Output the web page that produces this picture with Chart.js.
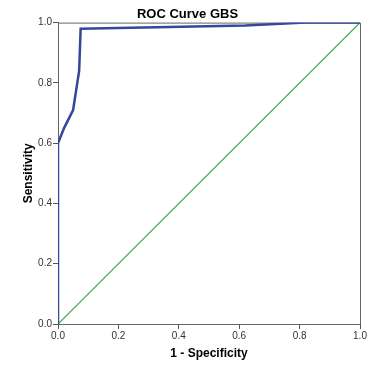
<!DOCTYPE html>
<html>
<head>
<meta charset="utf-8">
<script src="https://cdn.jsdelivr.net/npm/chart.js@4"></script>
<style>
  html, body { margin: 0; padding: 0; background: #fff; }
  #wrap { width: 391px; height: 368px; }
</style>
</head>
<body>
<div id="wrap"><canvas id="rocChart" width="391" height="368"></canvas></div>
<script>
// ROC curve points
const rocX = [0, 0, 0.02, 0.05, 0.07, 0.075, 0.62, 0.82, 1];
const rocY = [0, 0.6, 0.65, 0.71, 0.84, 0.98, 0.99, 1.0, 1.0];
// reference line
const diagX = [0, 1];
const diagY = [0, 1];
const tickValues = [0, 0.2, 0.4, 0.6, 0.8, 1.0];

function toPoints(xs, ys) {
    return xs.map((x, i) => ({ x: x, y: ys[i] }));
}

// box around the plot area (top and right sides)
const frame = {
    id: 'frame',
    beforeDatasetsDraw(chart) {
        const { ctx, chartArea: a } = chart;
        ctx.save();
        ctx.strokeStyle = '#666';
        ctx.lineWidth = 1;
        ctx.beginPath();
        ctx.moveTo(a.left, a.top + 0.5);
        ctx.lineTo(a.right + 0.5, a.top + 0.5);
        ctx.lineTo(a.right + 0.5, a.bottom);
        ctx.stroke();
        ctx.restore();
    }
};

const tickFont = { family: 'Arial, "Liberation Sans", sans-serif', size: 10 };
const titleFont = { family: 'Arial, "Liberation Sans", sans-serif', size: 12, weight: 'bold' };

new Chart(document.getElementById('rocChart'), {
    type: 'line',
    data: {
        datasets: [{
            data: toPoints(rocX, rocY),
            borderColor: '#34479c',
            borderWidth: 2.5,
            pointRadius: 0,
            tension: 0
        }, {
            data: toPoints(diagX, diagY),
            borderColor: '#3aa843',
            borderWidth: 1.2,
            pointRadius: 0
        }]
    },
    options: {
        responsive: false,
        animation: false,
        layout: { padding: { left: 15, right: 31, top: 0, bottom: 0 } },
        plugins: {
            legend: { display: false },
            tooltip: { enabled: false },
            title: {
                display: true,
                text: 'ROC Curve GBS',
                color: '#000',
                font: { family: 'Arial, "Liberation Sans", sans-serif', size: 13, weight: 'bold' },
                padding: { top: 7, bottom: 0 }
            }
        },
        scales: {
            x: {
                type: 'linear',
                min: 0,
                max: 1,
                afterBuildTicks: s => { s.ticks = tickValues.map(v => ({ value: v })); },
                afterFit: s => { s.height = 44; },
                ticks: {
                    color: '#333',
                    font: tickFont,
                    padding: 1,
                    maxRotation: 0,
                    callback: v => v.toFixed(1)
                },
                grid: { drawOnChartArea: false, drawTicks: true, tickLength: 5, color: '#555' },
                border: { color: '#666', width: 1 },
                title: {
                    display: true,
                    text: '1 - Specificity',
                    color: '#000',
                    font: titleFont,
                    padding: { top: 0, bottom: 7 }
                }
            },
            y: {
                type: 'linear',
                min: 0,
                max: 1,
                afterBuildTicks: s => { s.ticks = tickValues.map(v => ({ value: v })); },
                afterFit: s => { s.width = 43; },
                ticks: {
                    color: '#333',
                    font: tickFont,
                    padding: 1,
                    callback: v => v.toFixed(1)
                },
                grid: { drawOnChartArea: false, drawTicks: true, tickLength: 5, color: '#555' },
                border: { color: '#666', width: 1 },
                title: {
                    display: true,
                    text: 'Sensitivity',
                    color: '#000',
                    font: titleFont,
                    padding: { top: 6, bottom: 0 }
                }
            }
        }
    },
    plugins: [frame]
});
</script>
</body>
</html>
